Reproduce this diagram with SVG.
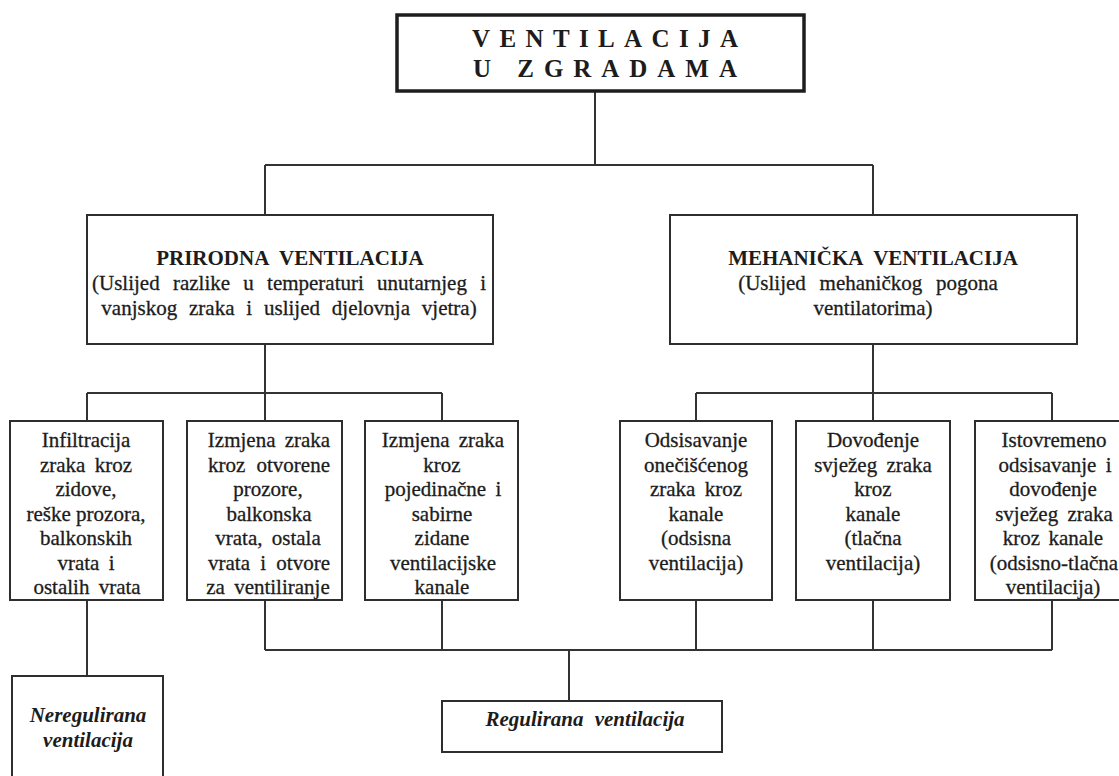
<svg xmlns="http://www.w3.org/2000/svg" width="1119" height="776" viewBox="0 0 1119 776">
<style>
  .box { fill: #ffffff; stroke: #2e2e2e; stroke-width: 2; }
  .tbox { fill: #ffffff; stroke: #1e1e1e; stroke-width: 3.5; }
  .ln { fill: none; stroke: #333333; stroke-width: 2; }
  text { font-family: "Liberation Serif", "Times New Roman", serif; fill: #1c1c1c; }
  .t { font-size: 21px; text-anchor: middle; stroke: #1c1c1c; stroke-width: 0.3; }
  .b { font-size: 21px; font-weight: bold; text-anchor: middle; }
  .title { font-size: 25px; font-weight: bold; }
  .it { font-size: 21px; font-weight: bold; font-style: italic; text-anchor: middle; }
</style>
<rect width="1119" height="776" fill="#ffffff"/>
<g id="connectors">
  <path class="ln" d="M595 91 V165 M265 165 H873 M265 165 V215 M873 165 V215"/>
  <path class="ln" d="M265 344 V393 M87 393 H442 M87 393 V421 M265 393 V421 M442 393 V421"/>
  <path class="ln" d="M873 344 V393 M696 393 H1052 M696 393 V421 M873 393 V421 M1052 393 V421"/>
  <path class="ln" d="M87 600 V676"/>
  <path class="ln" d="M265 600 V650 M442 600 V650 M696 600 V650 M873 600 V650 M1052 600 V650 M265 650 H1052 M569 650 V701"/>
</g>
<g id="title">
  <rect class="tbox" x="397" y="15" width="407" height="76"/>
  <text class="title" x="472" y="47" textLength="266" lengthAdjust="spacing">VENTILACIJA</text>
  <text class="title" x="473" y="77" textLength="264" lengthAdjust="spacing">U ZGRADAMA</text>
</g>
<g id="prirodna">
  <rect class="box" x="87" y="215" width="406" height="129"/>
  <text class="b" x="290" y="265" word-spacing="6">PRIRODNA VENTILACIJA</text>
  <text class="t" x="289" y="290" word-spacing="8">(Uslijed razlike u temperaturi unutarnjeg i</text>
  <text class="t" x="289" y="315" word-spacing="6.6">vanjskog zraka i uslijed djelovnja vjetra)</text>
</g>
<g id="mehanicka">
  <rect class="box" x="670" y="215" width="407" height="129"/>
  <text class="b" x="873" y="265" word-spacing="6">MEHANIČKA VENTILACIJA</text>
  <text class="t" x="868" y="290" word-spacing="8.5">(Uslijed mehaničkog pogona</text>
  <text class="t" x="873" y="315">ventilatorima)</text>
</g>
<g id="infiltracija">
  <rect class="box" x="10" y="421" width="153" height="179"/>
  <text class="t" x="86" y="447">Infiltracija</text>
  <text class="t" x="86" y="471.5" word-spacing="4">zraka kroz</text>
  <text class="t" x="86" y="496">zidove,</text>
  <text class="t" x="86" y="520.5">reške prozora,</text>
  <text class="t" x="86" y="545">balkonskih</text>
  <text class="t" x="86" y="569.5" word-spacing="4">vrata i</text>
  <text class="t" x="87" y="594" word-spacing="4">ostalih vrata</text>
</g>
<g id="izmjena1">
  <rect class="box" x="187" y="421" width="155" height="179"/>
  <text class="t" x="269" y="447" word-spacing="4">Izmjena zraka</text>
  <text class="t" x="269" y="471.5" word-spacing="6">kroz otvorene</text>
  <text class="t" x="268" y="496">prozore,</text>
  <text class="t" x="269" y="520.5">balkonska</text>
  <text class="t" x="268" y="545" word-spacing="4">vrata, ostala</text>
  <text class="t" x="269" y="569.5" word-spacing="5">vrata i otvore</text>
  <text class="t" x="268" y="594" word-spacing="4">za ventiliranje</text>
</g>
<g id="izmjena2">
  <rect class="box" x="365" y="421" width="153" height="179"/>
  <text class="t" x="443" y="447" word-spacing="4">Izmjena zraka</text>
  <text class="t" x="442" y="471.5">kroz</text>
  <text class="t" x="443" y="496" word-spacing="4">pojedinačne i</text>
  <text class="t" x="442" y="520.5">sabirne</text>
  <text class="t" x="442" y="545">zidane</text>
  <text class="t" x="443" y="569.5">ventilacijske</text>
  <text class="t" x="442" y="594">kanale</text>
</g>
<g id="odsisavanje">
  <rect class="box" x="620" y="421" width="152" height="179"/>
  <text class="t" x="696" y="447">Odsisavanje</text>
  <text class="t" x="696" y="471.5">onečišćenog</text>
  <text class="t" x="696" y="496" word-spacing="4">zraka kroz</text>
  <text class="t" x="696" y="520.5">kanale</text>
  <text class="t" x="696" y="545">(odsisna</text>
  <text class="t" x="696" y="569.5">ventilacija)</text>
</g>
<g id="dovodjenje">
  <rect class="box" x="796" y="421" width="154" height="179"/>
  <text class="t" x="873" y="447">Dovođenje</text>
  <text class="t" x="873" y="471.5" word-spacing="4">svježeg zraka</text>
  <text class="t" x="873" y="496">kroz</text>
  <text class="t" x="873" y="520.5">kanale</text>
  <text class="t" x="873" y="545">(tlačna</text>
  <text class="t" x="873" y="569.5">ventilacija)</text>
</g>
<g id="istovremeno">
  <rect class="box" x="975" y="421" width="156" height="179"/>
  <text class="t" x="1054" y="447">Istovremeno</text>
  <text class="t" x="1055" y="471.5" word-spacing="4">odsisavanje i</text>
  <text class="t" x="1053" y="496">dovođenje</text>
  <text class="t" x="1054" y="520.5" word-spacing="4">svježeg zraka</text>
  <text class="t" x="1053" y="545" word-spacing="3">kroz kanale</text>
  <text class="t" x="1054" y="569.5">(odsisno-tlačna</text>
  <text class="t" x="1053" y="594">ventilacija)</text>
</g>
<g id="neregulirana">
  <rect class="box" x="12" y="676" width="151" height="110"/>
  <text class="it" x="88" y="722">Neregulirana</text>
  <text class="it" x="88" y="747">ventilacija</text>
</g>
<g id="regulirana">
  <rect class="box" x="442" y="701" width="280" height="51"/>
  <text class="it" x="585" y="726" word-spacing="6">Regulirana ventilacija</text>
</g>
</svg>
